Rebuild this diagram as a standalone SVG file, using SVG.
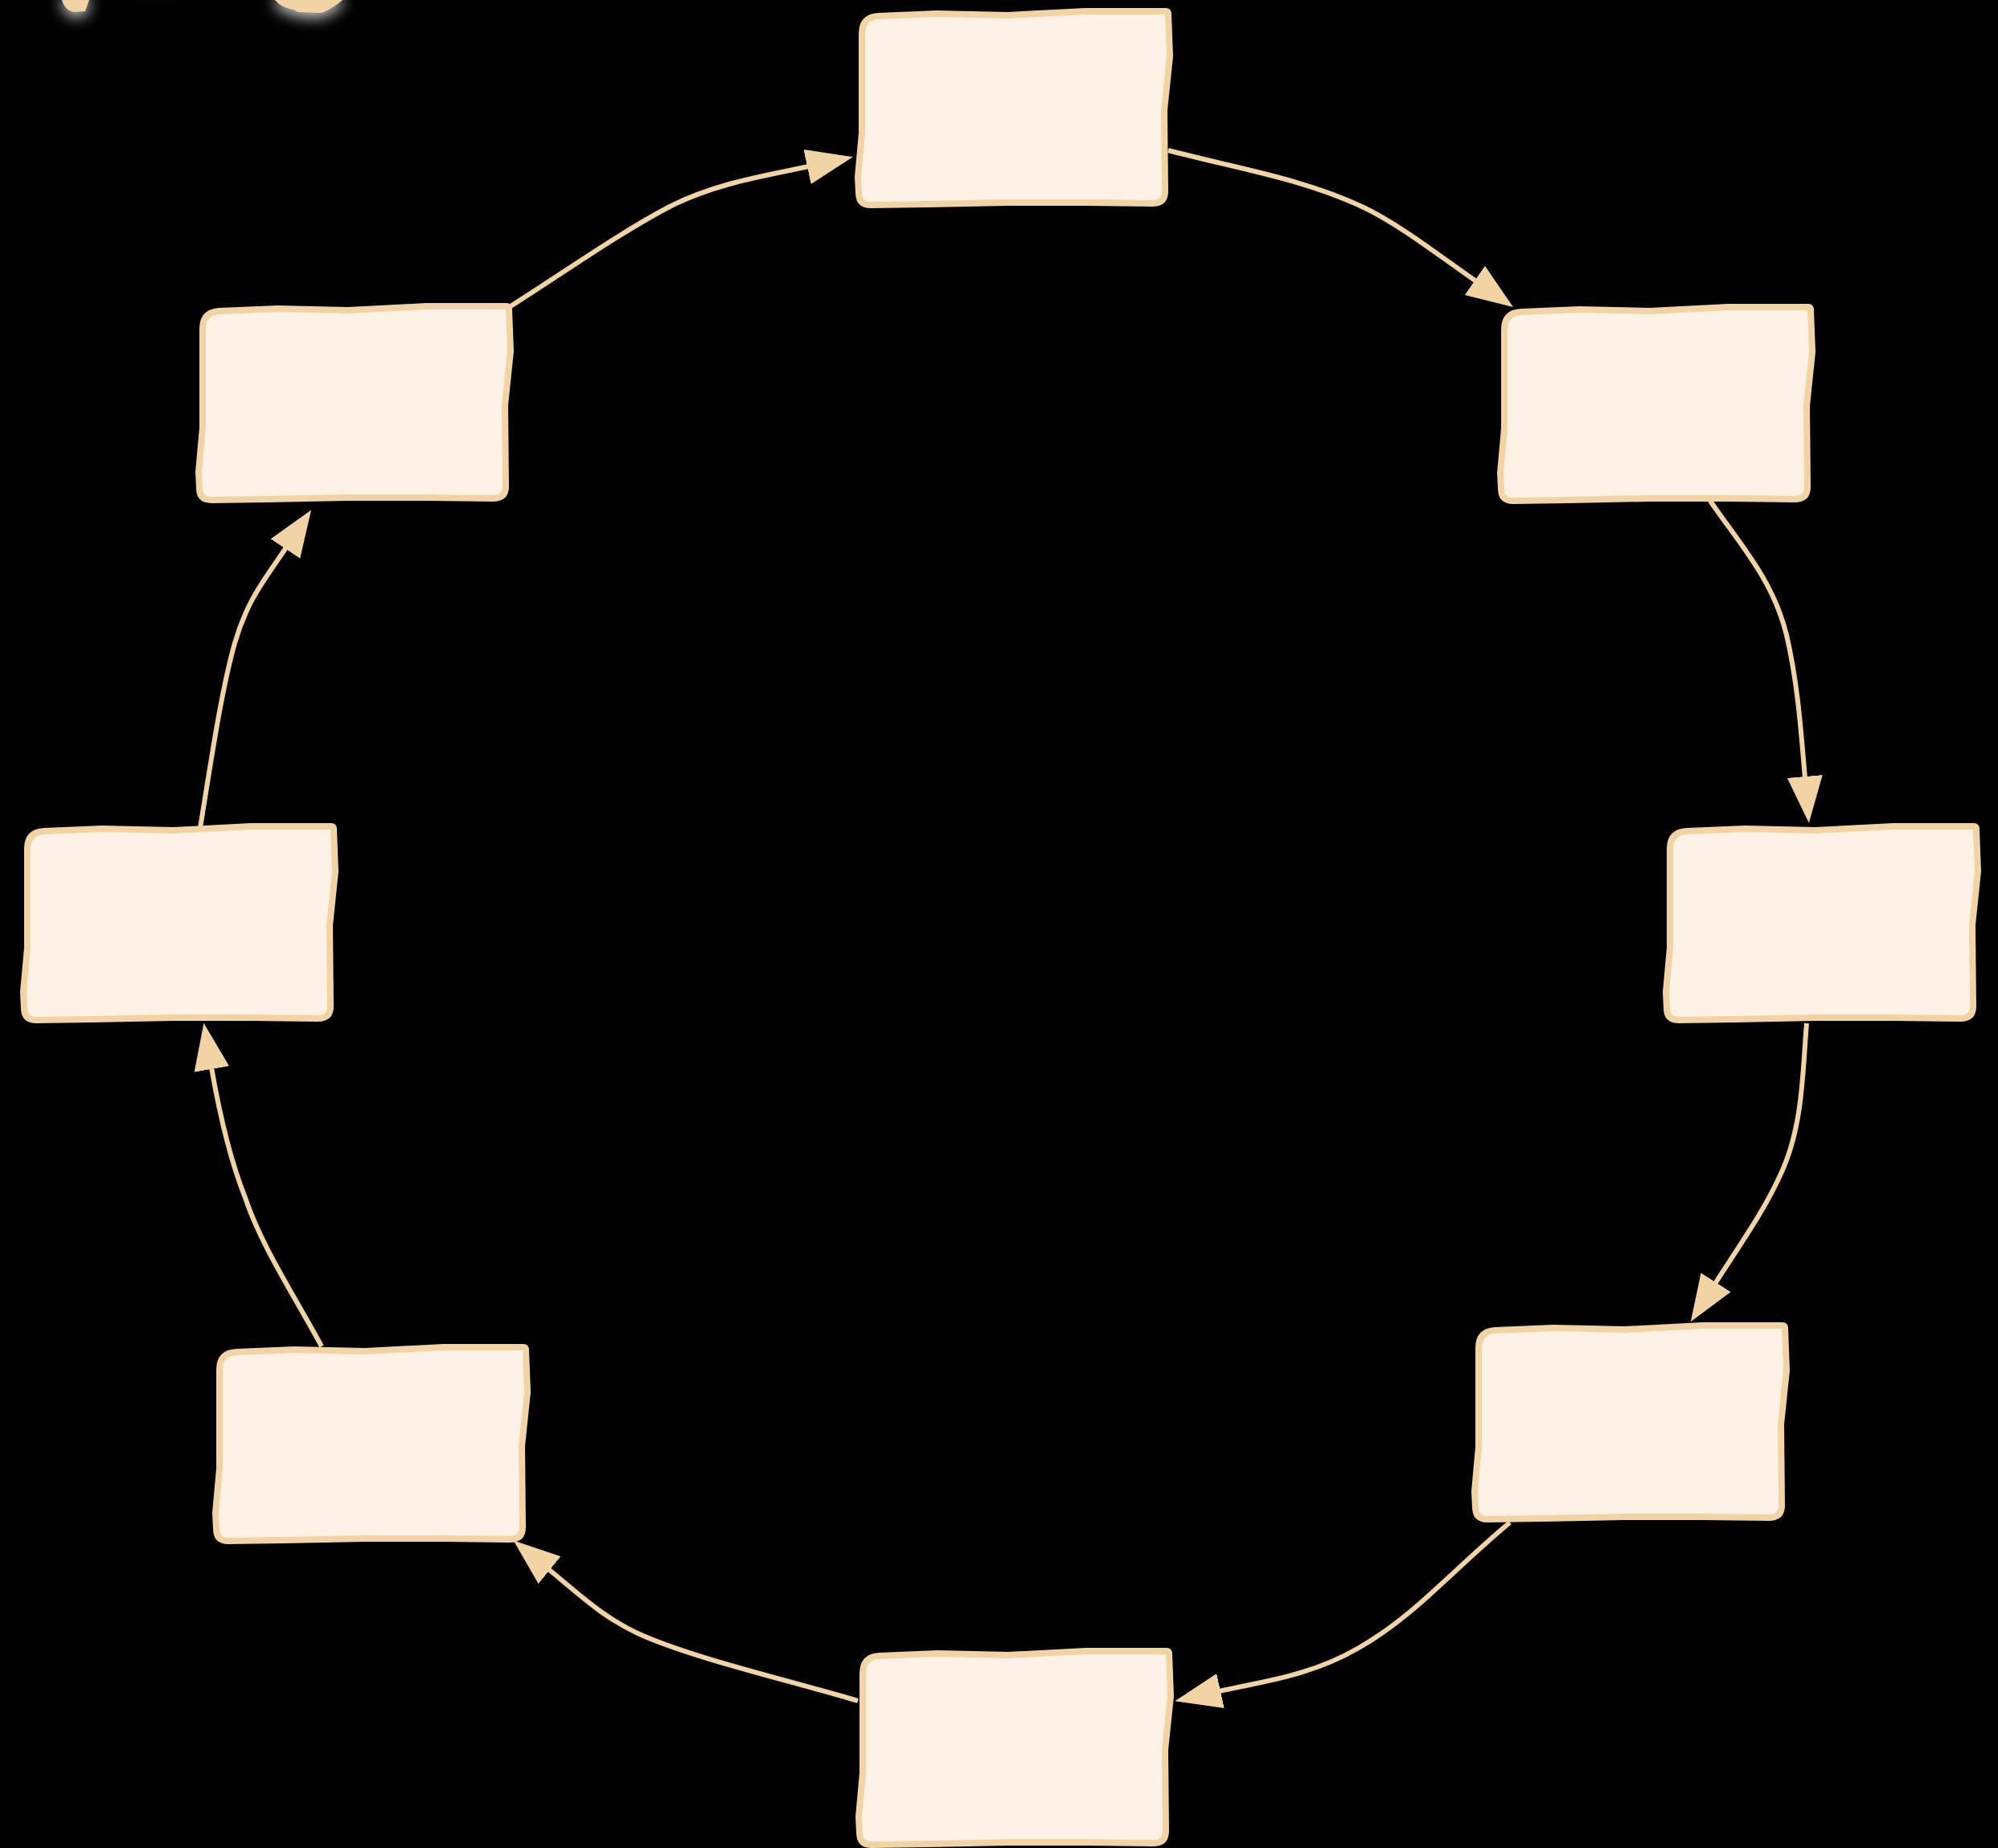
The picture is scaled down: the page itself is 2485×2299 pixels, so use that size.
<svg xmlns="http://www.w3.org/2000/svg" xmlns:xlink="http://www.w3.org/1999/xlink" width="2485" height="2299" viewBox="0 0 2485 2299">
  <style>
    .node { fill: #FEF2E7; stroke: #F2D4A4; stroke-width: 8; stroke-linejoin: round; }
    .edge { fill: none; stroke: #F2D4A4; stroke-width: 6; stroke-linecap: butt; }
    .blob { fill: #F2D4A4; filter: url(#glow); }
  </style>
  <defs>
    <marker id="arrow" markerUnits="userSpaceOnUse" markerWidth="60" markerHeight="48" viewBox="0 0 60 48" refX="2" refY="24" orient="auto">
      <path d="M0,2 L58,24 L0,46 Z" fill="#F2D4A4"/>
    </marker>
    <path id="box" d="M7,30 Q7,9 28,8 L100,5 L188,7 L285,2 L385,2 Q388,2 388,6 L390,58 L383,125 L384,226 Q384,241 368,241 L285,240 L188,240 L88,242 L18,243 Q3,243 3,228 L2,208 L7,153 L7,56 Z"/>
    <filter id="glow" x="-100%" y="-100%" width="300%" height="400%">
      <feGaussianBlur in="SourceAlpha" stdDeviation="9" result="b"/>
      <feOffset in="b" dx="0" dy="6" result="o"/>
      <feFlood flood-color="#e8e8e8" flood-opacity="0.9"/>
      <feComposite in2="o" operator="in" result="g"/>
      <feMerge>
        <feMergeNode in="g"/>
        <feMergeNode in="SourceGraphic"/>
      </feMerge>
    </filter>
  </defs>
  <rect x="0" y="0" width="2485" height="2299" fill="#000000"/>

  <g id="decor">
    <path class="blob" d="M77,-10 L77,0 Q80,12 91,15 L106,14 Q108,8 111,0 L111,-10 Z"/>
    <path class="blob" d="M342,-10 L342,0 Q350,10 366,12 L370,15 L400,16 Q415,10 426,0 L426,-10 Z"/>
    <path class="blob" d="M175,-30 L215,-30 L212,-18 L180,-18 Z" opacity="0.5"/>
  </g>

  <g id="connectors">
    <path class="edge" marker-end="url(#arrow)" d="M1453,187 C1540,210 1620,222 1696,258 C1740,279 1790,318 1836,350"/>
    <path class="edge" marker-end="url(#arrow)" d="M2127,623 C2160,672 2205,720 2222,790 C2236,850 2240,910 2245,968"/>
    <path class="edge" marker-end="url(#arrow)" d="M2247,1273 C2242,1330 2243,1400 2215,1460 C2195,1505 2165,1547 2133,1597"/>
    <path class="edge" marker-end="url(#arrow)" d="M1878,1894 C1810,1950 1760,2010 1690,2050 C1630,2085 1570,2092 1516,2104"/>
    <path class="edge" marker-end="url(#arrow)" d="M1067,2116 C980,2090 870,2065 800,2035 C750,2013 720,1983 682,1952"/>
    <path class="edge" marker-end="url(#arrow)" d="M400,1675 C365,1610 325,1550 305,1490 C285,1440 272,1380 263,1328"/>
    <path class="edge" marker-end="url(#arrow)" d="M249,1030 C262,950 275,860 292,800 C308,745 330,720 356,681"/>
    <path class="edge" marker-end="url(#arrow)" d="M632,383 C700,340 770,290 833,257 C890,228 950,219 1006,207"/>
  </g>

  <g id="node-top" transform="translate(1065,12)"><use xlink:href="#box" class="node"/></g>
  <g id="node-upper-right" transform="translate(1864,380)"><use xlink:href="#box" class="node"/></g>
  <g id="node-mid-right" transform="translate(2070,1026)"><use xlink:href="#box" class="node"/></g>
  <g id="node-lower-right" transform="translate(1832,1647)"><use xlink:href="#box" class="node"/></g>
  <g id="node-bottom" transform="translate(1066,2052)"><use xlink:href="#box" class="node"/></g>
  <g id="node-lower-left" transform="translate(266,1674)"><use xlink:href="#box" class="node"/></g>
  <g id="node-mid-left" transform="translate(27,1026)"><use xlink:href="#box" class="node"/></g>
  <g id="node-upper-left" transform="translate(245,379)"><use xlink:href="#box" class="node"/></g>
</svg>
